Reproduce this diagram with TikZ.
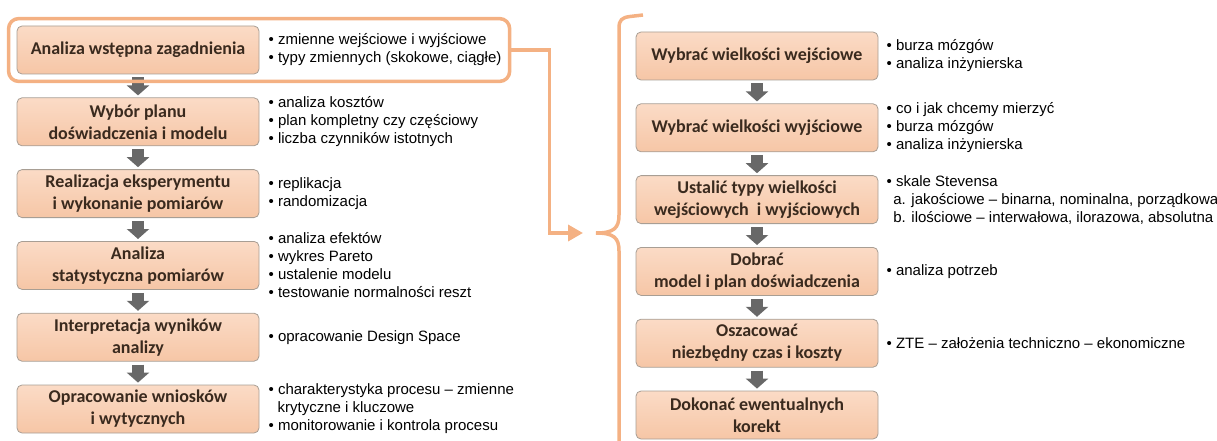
\documentclass[tikz,border=0pt]{standalone}
\usepackage{fontspec}
\setmainfont{Liberation Sans}
\newfontfamily\boxfont{Carlito}
\usetikzlibrary{positioning,fit,arrows.meta}
\definecolor{steptop}{RGB}{251,219,198}
\definecolor{stepfill}{RGB}{246,198,166}
\definecolor{stepedge}{RGB}{168,158,148}
\definecolor{steptext}{RGB}{58,42,30}
\definecolor{flowgray}{RGB}{104,104,104}
\definecolor{accent}{RGB}{244,177,131}

\begin{document}
\begin{tikzpicture}[x=1pt, y=-1pt,
  stepbox/.style={draw=stepedge, line width=0.8pt, rounded corners=5pt, top color=steptop, bottom color=stepfill,
    minimum width=242pt, minimum height=48pt, align=center, text=steptext, inner sep=2pt,
    font=\boxfont\bfseries\fontsize{18}{22}\selectfont},
  notes/.style={align=left, inner sep=0pt, font=\fontsize{15}{18}\selectfont},
  flow/.style={-{Triangle[length=10pt,width=22pt]}, line width=12pt, draw=flowgray, shorten <=3pt, shorten >=2pt},
  accentline/.style={draw=accent, line width=3.5pt}]
  \useasboundingbox (0,0) rectangle (1217,441);

  % left column
  \node[stepbox] (l1) at (138,50) {Analiza wstępna zagadnienia};
  \node[stepbox, below=23pt of l1] (l2) {Wybór planu\\doświadczenia i modelu};
  \node[stepbox, below=23pt of l2] (l3) {Realizacja eksperymentu\\i wykonanie pomiarów};
  \node[stepbox, below=23pt of l3] (l4) {Analiza\\statystyczna pomiarów};
  \node[stepbox, below=23pt of l4] (l5) {Interpretacja wyników\\analizy};
  \node[stepbox, below=23pt of l5] (l6) {Opracowanie wniosków\\i wytycznych};

  \node[notes, right=9pt of l1] (n1) {• zmienne wejściowe i wyjściowe\\• typy zmiennych (skokowe, ciągłe)};
  \node[notes, right=9pt of l2] (n2) {• analiza kosztów\\• plan kompletny czy częściowy\\• liczba czynników istotnych};
  \node[notes, right=9pt of l3] (n3) {• replikacja\\• randomizacja};
  \node[notes, right=9pt of l4] (n4) {• analiza efektów\\• wykres Pareto\\• ustalenie modelu\\• testowanie normalności reszt};
  \node[notes, right=9pt of l5] (n5) {• opracowanie Design Space};
  \node[notes, right=9pt of l6] (n6) {• charakterystyka procesu -- zmienne\\\hspace*{0.6em}krytyczne i kluczowe\\• monitorowanie i kontrola procesu};

  \foreach \a/\b in {l1/l2, l2/l3, l3/l4, l4/l5, l5/l6}
    \draw[flow] (\a) -- (\b);

  % right column
  \node[stepbox] (r1) at (757,56) {Wybrać wielkości wejściowe};
  \node[stepbox, below=23pt of r1] (r2) {Wybrać wielkości wyjściowe};
  \node[stepbox, below=23pt of r2] (r3) {Ustalić typy wielkości\\wejściowych\ \ i wyjściowych};
  \node[stepbox, below=23pt of r3] (r4) {Dobrać\\model i plan doświadczenia};
  \node[stepbox, below=23pt of r4] (r5) {Oszacować\\niezbędny czas i koszty};
  \node[stepbox, below=23pt of r5] (r6) {Dokonać ewentualnych\\korekt};

  \node[notes, right=8pt of r1] (m1) {• burza mózgów\\• analiza inżynierska};
  \node[notes, right=8pt of r2] (m2) {• co i jak chcemy mierzyć\\• burza mózgów\\• analiza inżynierska};
  \node[notes, right=8pt of r3] (m3) {• skale Stevensa\\\hspace*{0.45em}a. jakościowe -- binarna, nominalna, porządkowa\\\hspace*{0.45em}b. ilościowe -- interwałowa, ilorazowa, absolutna};
  \node[notes, right=8pt of r4] (m4) {• analiza potrzeb};
  \node[notes, right=8pt of r5] (m5) {• ZTE -- założenia techniczno -- ekonomiczne};

  \foreach \a/\b in {r1/r2, r2/r3, r3/r4, r4/r5, r5/r6}
    \draw[flow] (\a) -- (\b);

  % highlight, link and brace
  \node[draw=accent, line width=3.5pt, rounded corners=10pt, fit=(l1)(n1), inner xsep=8pt, inner ysep=7pt] (focus) {};
  \coordinate (tip) at (583,233);
  \draw[accentline, -{Triangle[length=15pt,width=16pt]}] (focus.east) -- ++(38,0) |- (tip);
  \draw[accentline] (643,15) -- (630,16.5) .. controls (622,17.5) and (619,20) .. (619,28)
    -- (619,215) .. controls (619,228) and (614,233) .. (596,233)
    .. controls (614,233) and (619,238) .. (619,251) -- (619,441);
\end{tikzpicture}
\end{document}
